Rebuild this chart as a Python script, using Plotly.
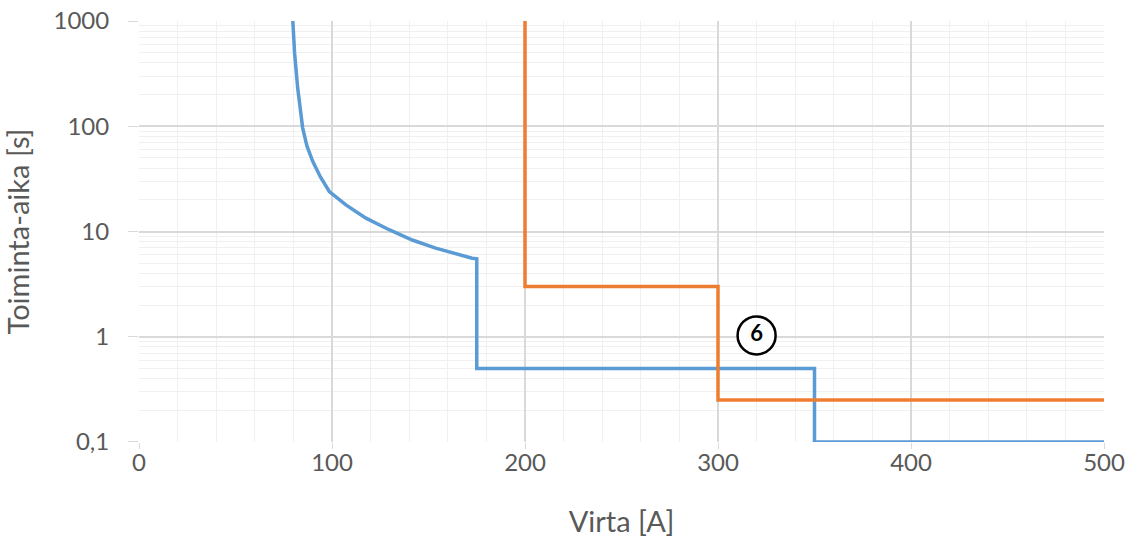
import plotly.graph_objects as go

# Blue curve (relay 1)
blue_x = [79.7, 80.0, 80.6, 82.2, 84.8, 87.0, 90.0, 94.0, 98.6, 107.2, 117.6, 129.6, 141.6, 153.7, 163.0, 172.6, 175, 175, 350, 350, 500]
blue_y = [1000, 700, 500, 232, 96.6, 65, 46.4, 33, 24, 17.9, 13.4, 10.4, 8.3, 6.95, 6.2, 5.58, 5.5, 0.5, 0.5, 0.1, 0.1]

# Orange curve (relay 2)
orange_x = [200, 200, 300, 300, 500]
orange_y = [1000, 3, 3, 0.25, 0.25]

# Marker label
label_x = [320]
label_y = [1.03]
label_text = ["6"]

y_tickvals = [0.1, 1, 10, 100, 1000]
y_ticktext = ["0,1", "1", "10", "100", "1000"]
x_tickvals = [0, 100, 200, 300, 400, 500]
x_ticktext = ["0", "100", "200", "300", "400", "500"]

fig = go.Figure()
fig.add_trace(go.Scatter(x=blue_x, y=blue_y, mode="lines",
                         line=dict(color="#5B9BD5", width=3.5), showlegend=False))
fig.add_trace(go.Scatter(x=orange_x, y=orange_y, mode="lines",
                         line=dict(color="#ED7D31", width=3.5), showlegend=False))
fig.add_trace(go.Scatter(x=label_x, y=label_y, mode="markers+text", text=label_text,
                         textposition="middle center",
                         textfont=dict(family="Lato", size=22, color="#000000", weight="bold"),
                         marker=dict(symbol="circle", size=38, color="white",
                                     line=dict(color="#000000", width=2.5)),
                         showlegend=False))

grid_major = "#d9d9d9"
grid_minor = "#f0f0f0"
font_col = "#595959"

fig.update_layout(
    width=1137, height=547,
    margin=dict(l=139, r=33, t=21, b=105),
    paper_bgcolor="white", plot_bgcolor="white",
    font=dict(family="Lato", color=font_col),
    xaxis=dict(range=[0, 500], tickvals=x_tickvals, ticktext=x_ticktext,
               automargin=False, ticklabeloverflow="allow",
               showgrid=True, gridcolor=grid_major, gridwidth=1.5,
               ticks="outside", ticklen=6, tickcolor=grid_major,
               ticklabelstandoff=-7,
               tickfont=dict(size=24, color=font_col),
               minor=dict(dtick=20, showgrid=True, gridcolor=grid_minor, gridwidth=1),
               zeroline=False, showline=False,
               title=dict(text="Virta [A]", font=dict(size=29, color=font_col), standoff=36)),
    yaxis=dict(type="log", range=[-1.0002, 3.0002], tickvals=y_tickvals, ticktext=y_ticktext,
               automargin=False, ticklabeloverflow="allow",
               showgrid=True, gridcolor=grid_major, gridwidth=1.5,
               ticks="outside", ticklen=10, tickcolor=grid_major,
               ticklabelstandoff=14,
               tickfont=dict(size=24, color=font_col),
               minor=dict(dtick="D1", showgrid=True, gridcolor=grid_minor, gridwidth=1),
               zeroline=False, showline=False,
               title=dict(text="Toiminta-aika [s]", font=dict(size=29, color=font_col), standoff=19)),
)

fig.write_html("out.html", config={"displayModeBar": False},
               post_script="document.body.style.margin='0';")
